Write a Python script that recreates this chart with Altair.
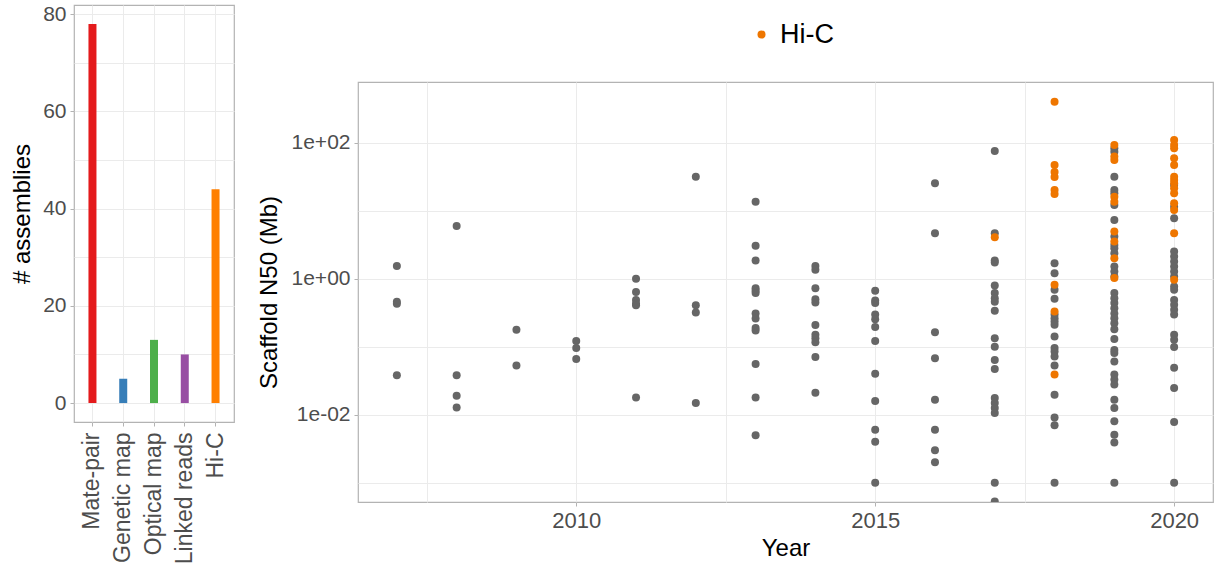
import altair as alt
import pandas as pd

# Scaffolding method counts (left panel)
methods = ["Mate-pair", "Genetic map", "Optical map", "Linked reads", "Hi-C"]
assemblies = [78, 5, 13, 10, 44]
method_colors = ["#E41A1C", "#377EB8", "#4DAF4A", "#984EA3", "#FF7F00"]

# Scaffold N50 (Mb) per release year, assemblies without Hi-C
n50_other = {
    2007: [1.55, 0.46, 0.43, 0.038],
    2008: [6.0, 0.038, 0.019, 0.0128],
    2009: [0.178, 0.053],
    2010: [0.122, 0.096, 0.066],
    2011: [1.0, 0.64, 0.49, 0.43, 0.41, 0.018],
    2012: [31.9, 0.41, 0.32, 0.0149],
    2013: [13.7, 3.06, 1.86, 0.73, 0.67, 0.62, 0.31, 0.26, 0.19, 0.174, 0.056, 0.018, 0.005],
    2014: [1.55, 1.36, 0.73, 0.50, 0.45, 0.21, 0.15, 0.134, 0.117, 0.071, 0.021],
    2015: [0.667, 0.48, 0.44, 0.30, 0.255, 0.195, 0.122, 0.040, 0.0159, 0.006, 0.004, 0.001],
    2016: [25.5, 4.7, 0.164, 0.068, 0.0166, 0.006, 0.003, 0.002],
    2017: [76, 4.7, 1.86, 1.74, 0.80, 0.62, 0.52, 0.46, 0.34, 0.134, 0.10, 0.064, 0.047,
           0.0176, 0.0149, 0.0126, 0.0106, 0.001, 0.00053],
    2018: [1.70, 1.21, 0.69, 0.51, 0.30, 0.264, 0.236, 0.211, 0.142, 0.096, 0.085, 0.072,
           0.053, 0.0197, 0.0091, 0.0070, 0.001],
    2019: [83.6, 74.5, 31.9, 20.4, 18.2, 12.2, 7.38, 4.19, 3.16, 2.83, 2.39, 1.52, 1.28, 1.08,
           0.62, 0.52, 0.44, 0.37, 0.31, 0.264, 0.223, 0.182, 0.130, 0.090, 0.081, 0.061,
           0.039, 0.033, 0.028, 0.0166, 0.0126, 0.0080, 0.0051, 0.0039, 0.001],
    2020: [24.1, 11.5, 7.82, 2.52, 2.13, 1.80, 1.52, 1.28, 1.08, 0.77, 0.69, 0.49, 0.415,
           0.35, 0.30, 0.150, 0.127, 0.099, 0.049, 0.0247, 0.0078, 0.001],
}

# Scaffold N50 (Mb) per release year, Hi-C scaffolded assemblies
n50_hic = {
    2017: [4.1],
    2018: [405, 47.4, 37.5, 31.6, 20.4, 17.8, 0.82, 0.33, 0.039],
    2019: [93.5, 63, 56, 16.2, 13.7, 4.97, 3.54, 2.01, 1.03],
    2020: [111, 93.5, 83.6, 59.6, 47.4, 31.9, 28.6, 25.5, 21.6, 18.2, 13.0, 10.3, 4.7, 0.97],
}

GRAY_PT = "#666666"
HIC_PT = "#EE7600"
GRID = "#EBEBEB"
BORDER = "#B3B3B3"
LABEL = "#4D4D4D"
FONT = "Liberation Sans"
TICK_FS = 21
XTICK_FS = 22
TITLE_FS = 24
CAT_FS = 23
LEGEND_FS = 27

bars = pd.DataFrame({"method": methods, "n": assemblies})


def to_frame(d, group):
    rows = [{"year": yr, "n50": v, "method": group} for yr, vals in d.items() for v in vals]
    return pd.DataFrame(rows)


other_df = to_frame(n50_other, "Other")
hic_df = to_frame(n50_hic, "Hi-C")
hic_scale = alt.Scale(domain=["Hi-C"], range=[HIC_PT])

# ---- left panel: number of assemblies per scaffolding method
left = (
    alt.Chart(bars)
    .mark_bar(width=8)
    .encode(
        x=alt.X(
            "method:N",
            sort=methods,
            scale=alt.Scale(paddingInner=0, paddingOuter=0.1),
            axis=alt.Axis(
                title=None, labelAngle=270, labelAlign="right", labelBaseline="middle",
                labelFontSize=CAT_FS, labelColor=LABEL, labelPadding=6, tickColor=BORDER,
                tickSize=4, domain=False, grid=True, gridColor=GRID, bandPosition=0.5,
                labelOverlap=False,
            ),
        ),
        y=alt.Y(
            "n:Q",
            scale=alt.Scale(domain=[-3.9, 81.9], nice=False, zero=False),
            axis=alt.Axis(
                title="# assemblies", titleFontSize=TITLE_FS, titleFontWeight="normal",
                titleColor="black", titlePadding=8,
                values=[0, 10, 20, 30, 40, 50, 60, 70, 80],
                labelExpr="datum.value % 20 == 0 ? datum.label : ''",
                labelFontSize=TICK_FS, labelColor=LABEL, labelPadding=4,
                tickColor={"condition": {"test": "datum.value % 20 == 0", "value": BORDER},
                           "value": "transparent"},
                tickSize=4, domain=False, grid=True, gridColor=GRID,
            ),
        ),
        color=alt.Color("method:N", scale=alt.Scale(domain=methods, range=method_colors), legend=None),
    )
    .properties(width=160, height=417)
)

# ---- right panel: scaffold N50 over time
x_enc = alt.X(
    "year:Q",
    scale=alt.Scale(domain=[2006.35, 2020.65], nice=False, zero=False),
    axis=alt.Axis(
        title="Year", titleFontSize=TITLE_FS, titleFontWeight="normal", titleColor="black",
        titlePadding=5, format="d",
        values=[2007.5, 2010, 2012.5, 2015, 2017.5, 2020],
        labelExpr="datum.value % 5 == 0 ? datum.label : ''",
        labelFontSize=XTICK_FS, labelColor=LABEL, labelPadding=4,
        tickColor={"condition": {"test": "datum.value % 5 == 0", "value": BORDER},
                   "value": "transparent"},
        tickSize=4, domain=False, grid=True, gridColor=GRID,
    ),
)
y_enc = alt.Y(
    "n50:Q",
    scale=alt.Scale(type="log", domain=[5.2e-4, 790], nice=False),
    axis=alt.Axis(
        title="Scaffold N50 (Mb)", titleFontSize=TITLE_FS, titleFontWeight="normal",
        titleColor="black", titlePadding=10,
        values=[0.001, 0.01, 0.1, 1, 10, 100],
        labelExpr="datum.value == 100 ? '1e+02' : datum.value == 1 ? '1e+00' : datum.value == 0.01 ? '1e-02' : ''",
        labelFontSize=TICK_FS, labelColor=LABEL, labelPadding=4,
        tickColor={"condition": {"test": "datum.value == 100 || datum.value == 1 || datum.value == 0.01",
                                 "value": BORDER},
                   "value": "transparent"},
        tickSize=4, domain=False, grid=True, gridColor=GRID,
    ),
)

gray_pts = (
    alt.Chart(other_df)
    .mark_circle(size=64, opacity=1, color=GRAY_PT, clip=True)
    .encode(x=x_enc, y=y_enc)
)
hic_pts = (
    alt.Chart(hic_df)
    .mark_circle(size=64, opacity=1, clip=True)
    .encode(x=x_enc, y=y_enc, color=alt.Color("method:N", scale=hic_scale, legend=None))
)
scatter = alt.layer(gray_pts, hic_pts).properties(width=855, height=420)

# band above the scatter panel that carries the Hi-C legend
legend_band = (
    alt.Chart(hic_df)
    .mark_circle(size=64, opacity=0)
    .encode(
        color=alt.Color(
            "method:N",
            scale=hic_scale,
            legend=alt.Legend(
                title=None, orient="none", legendX=390, legendY=16, padding=0,
                direction="horizontal", labelFontSize=LEGEND_FS, labelColor="black",
                symbolSize=64, symbolType="circle", symbolOpacity=1, labelOffset=5,
            ),
        )
    )
    .properties(width=855, height=75, view=alt.ViewBackground(stroke="transparent"))
)

right = (
    alt.vconcat(legend_band, scatter, spacing=0)
    .resolve_scale(color="independent")
    .resolve_legend(color="independent")
)

chart = (
    alt.hconcat(left, right, spacing=21)
    .resolve_scale(color="independent")
    .resolve_legend(color="independent")
    .properties(padding={"left": 10, "top": 2, "right": 0, "bottom": 0})
    .configure(font=FONT)
    .configure_view(stroke=BORDER, strokeWidth=1.2)
)

chart.save("out.html", embed_options={"renderer": "svg", "actions": False})
